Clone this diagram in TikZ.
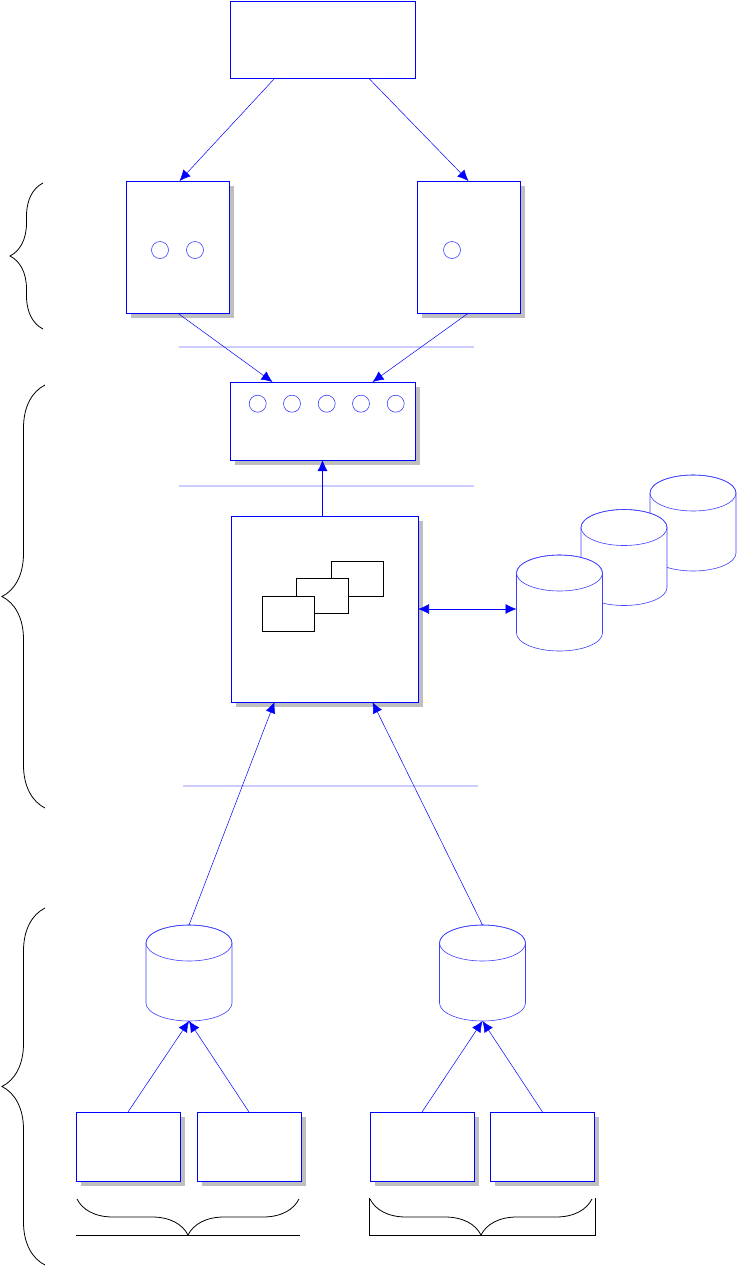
\documentclass[tikz,border=0pt]{standalone}
\usetikzlibrary{shadows,arrows.meta,decorations.pathreplacing,calc}
\newcommand\dbcyl[1]{%
  \draw[cylline, fill=white] ($(#1.north west)+(0,-18)$) -- ($(#1.south west)+(0,18)$)
    arc[start angle=180, end angle=360, x radius=43, y radius=18]
    -- ($(#1.north east)+(0,-18)$)
    arc[start angle=0, end angle=180, x radius=43, y radius=18] -- cycle;
  \draw[cylline] ($(#1.north)+(0,-18)$) ellipse[x radius=43, y radius=18];
}
\begin{document}
\begin{tikzpicture}[x=1pt,y=1pt,
  box/.style={draw=blue, line width=0.9pt, fill=white, inner sep=0pt, outer sep=0pt},
  sbox/.style={box, drop shadow={shadow xshift=4.5pt, shadow yshift=-4.5pt, fill=black!25, opacity=1}},
  circ/.style={circle, draw=blue!75, line width=0.6pt, minimum size=17pt, inner sep=0pt},
  inrect/.style={draw=black, line width=0.7pt, fill=white, minimum width=52pt, minimum height=35pt, inner sep=0pt},
  cylnode/.style={minimum width=86pt, minimum height=96pt, inner sep=0pt, outer sep=0pt},
  cylline/.style={draw=blue!75, line width=0.6pt},
  arr/.style={draw=blue, line width=0.5pt, -{Latex[length=11pt,width=10pt]}},
  darr/.style={draw=blue, line width=0.6pt, {Latex[length=11pt,width=10pt]}-{Latex[length=11pt,width=10pt]}},
  sep/.style={draw=blue!20, line width=2.2pt},
  brc/.style={draw=black, line width=0.8pt, decorate, decoration={brace, amplitude=#1}},
]
\useasboundingbox (0,0) rectangle (737,-1267);

% separators
\draw[sep] (179,-347) -- (474,-347);
\draw[sep] (179,-486) -- (474,-486);
\draw[sep] (183,-786) -- (478,-786);

% boxes
\node[box, minimum width=185pt, minimum height=77pt] (T) at (322.5,-39.5) {};
\node[sbox, minimum width=103pt, minimum height=132pt] (A) at (177.5,-247) {};
\node[sbox, minimum width=103pt, minimum height=132pt] (B) at (468.5,-247) {};
\node[sbox, minimum width=185pt, minimum height=78pt] (C) at (322.5,-421) {};
\node[sbox, minimum width=187pt, minimum height=186pt] (D) at (324.5,-609) {};
\node[sbox, minimum width=104pt, minimum height=69pt] (b1) at (128,-1146.5) {};
\node[sbox, minimum width=104pt, minimum height=69pt] (b2) at (249,-1146.5) {};
\node[sbox, minimum width=104pt, minimum height=69pt] (b3) at (422,-1146.5) {};
\node[sbox, minimum width=104pt, minimum height=69pt] (b4) at (542.5,-1146.5) {};

% circles
\node[circ] (a1) at (160,-250) {};
\node[circ] (a2) at (195,-250) {};
\node[circ] (bb1) at (452,-250) {};
\node[circ] (c1) at (257.7,-403.7) {};
\node[circ] (c2) at (292,-403.7) {};
\node[circ] (c3) at (326.7,-403.7) {};
\node[circ] (c4) at (361,-403.7) {};
\node[circ] (c5) at (395.7,-403.7) {};

% inner rectangles
\node[inrect] (r3) at (357,-578.5) {};
\node[inrect] (r2) at (322,-596) {};
\node[inrect] (r1) at (288,-613.5) {};

% cylinders
\node[cylnode] (cb) at (693,-523) {};
\node[cylnode] (cm) at (624,-557.5) {};
\node[cylnode] (cf) at (559.5,-603) {};
\node[cylnode] (cl) at (189,-973) {};
\node[cylnode] (cr) at (482.5,-973) {};
\dbcyl{cb}
\dbcyl{cm}
\dbcyl{cf}
\dbcyl{cl}
\dbcyl{cr}

% connectors
\draw[arr] ([xshift=-47.5pt]T.south) -- ([xshift=2pt]A.north);
\draw[arr] ([xshift=46pt]T.south) -- (B.north);
\draw[arr] (A.south) -- ([xshift=-50pt]C.north);
\draw[arr] (B.south) -- ([xshift=50pt]C.north);
\draw[arr] (C.south |- D.north) -- (C.south);
\draw[darr] (D.east) -- (D.east -| cf.west);
\draw[arr] (cl.north) -- ([xshift=-50pt]D.south);
\draw[arr] (cr.north) -- ([xshift=48pt]D.south);
\draw[arr] (b1.north) -- (cl.south);
\draw[arr] (b2.north) -- (cl.south);
\draw[arr] (b3.north) -- (cr.south);
\draw[arr] (b4.north) -- (cr.south);

% braces
\draw[brc=33pt] (43,-329) -- (43,-183);
\draw[brc=43pt] (45,-808) -- (45,-385);
\draw[brc=43pt] (45,-1265) -- (45,-908);
\draw[brc=36pt] (299,-1199) -- (77,-1199);
\draw[brc=36pt] (592,-1199) -- (370,-1199);
\draw[black, line width=0.8pt] (76,-1235) -- (300,-1235);
\draw[black, line width=0.8pt] (369,-1198) -- (369,-1235) -- (595,-1235) -- (595,-1198);
\end{tikzpicture}
\end{document}
